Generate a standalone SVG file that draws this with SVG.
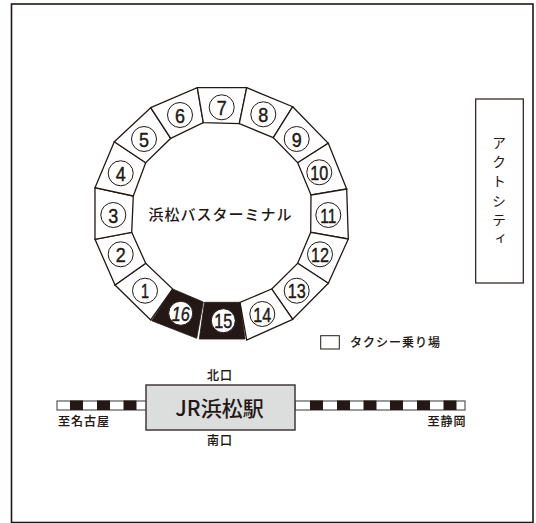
<svg xmlns="http://www.w3.org/2000/svg" width="536" height="523" viewBox="0 0 536 523">
<style>
text{font-family:"Noto Sans CJK JP","Noto Sans",sans-serif;fill:#231815;text-anchor:middle}
.bay{fill:#fff;stroke:#231815;stroke-width:1.3;stroke-linejoin:miter}
.dark{fill:#231815;stroke:#231815;stroke-width:.8}
.c{fill:#fff;stroke:#231815;stroke-width:1}
.n{font-family:"Liberation Sans",sans-serif;font-size:21px;stroke:#231815;stroke-width:.45}
.l{font-size:12px;font-weight:500;letter-spacing:1px;stroke:#231815;stroke-width:.15}
.blk{fill:#231815}
.rail{fill:#fff;stroke:#595757;stroke-width:1.2}
</style>
<rect id="frame" x="11.500" y="4" width="521.500" height="518.500" fill="#fff" stroke="#231815" stroke-width="1.600"/>
<g id="connectors">
<rect class="rail" x="57" y="401" width="90" height="9"/>
<rect class="rail" x="295" y="401" width="170" height="9"/>
<g class="blk">
<rect x="70" y="400.500" width="13" height="9.500"/><rect x="97" y="400.500" width="13" height="9.500"/><rect x="123.500" y="400.500" width="13" height="9.500"/>
<rect x="310" y="400.500" width="13" height="9.500"/><rect x="337" y="400.500" width="13" height="9.500"/><rect x="363.500" y="400.500" width="13" height="9.500"/><rect x="390" y="400.500" width="13" height="9.500"/><rect x="417" y="400.500" width="13" height="9.500"/><rect x="443.500" y="400.500" width="13" height="9.500"/>
</g>
</g>
<g id="bays">
<g id="bay1"><polygon class="bay" points="150.700,320 115,285 145.700,263.300 172.700,289"/><circle class="c" cx="145" cy="290.700" r="12.500"/><text class="n" x="145" y="298.200" textLength="8" lengthAdjust="spacingAndGlyphs">1</text></g>
<g id="bay2"><polygon class="bay" points="115,285 95,239.300 131.700,232.300 145.700,263.300"/><circle class="c" cx="120.700" cy="254.300" r="12.500"/><text class="n" x="120.700" y="261.800" textLength="10" lengthAdjust="spacingAndGlyphs">2</text></g>
<g id="bay3"><polygon class="bay" points="95,239.300 95,187.700 133.300,196 131.700,232.300"/><circle class="c" cx="113.300" cy="215" r="12.500"/><text class="n" x="113.300" y="222.500" textLength="10" lengthAdjust="spacingAndGlyphs">3</text></g>
<g id="bay4"><polygon class="bay" points="95,187.700 114.300,141.700 145.700,162.700 133.300,196"/><circle class="c" cx="120.700" cy="173.300" r="12.500"/><text class="n" x="120.700" y="180.800" textLength="10" lengthAdjust="spacingAndGlyphs">4</text></g>
<g id="bay5"><polygon class="bay" points="114.300,141.700 150.700,107.700 170.700,138.300 145.700,162.700"/><circle class="c" cx="144" cy="139" r="12.500"/><text class="n" x="144" y="146.500" textLength="10" lengthAdjust="spacingAndGlyphs">5</text></g>
<g id="bay6"><polygon class="bay" points="150.700,107.700 197.300,87.700 203.300,122.700 170.700,138.300"/><circle class="c" cx="180" cy="115" r="12.500"/><text class="n" x="180" y="122.500" textLength="10" lengthAdjust="spacingAndGlyphs">6</text></g>
<g id="bay7"><polygon class="bay" points="197.300,87.700 246.700,87.700 239.300,123.700 203.300,122.700"/><circle class="c" cx="221.700" cy="107.300" r="12.500"/><text class="n" x="221.700" y="114.800" textLength="10" lengthAdjust="spacingAndGlyphs">7</text></g>
<g id="bay8"><polygon class="bay" points="246.700,87.700 292.700,106.700 273.300,137.700 239.300,123.700"/><circle class="c" cx="263.300" cy="114.300" r="12.500"/><text class="n" x="263.300" y="121.800" textLength="10" lengthAdjust="spacingAndGlyphs">8</text></g>
<g id="bay9"><polygon class="bay" points="292.700,106.700 328.300,143.300 297.700,162.700 273.300,137.700"/><circle class="c" cx="296.700" cy="139" r="12.500"/><text class="n" x="296.700" y="146.500" textLength="10" lengthAdjust="spacingAndGlyphs">9</text></g>
<g id="bay10"><polygon class="bay" points="328.300,143.300 346.700,189 311,195 297.700,162.700"/><circle class="c" cx="319.300" cy="172.300" r="12.500"/><text class="n" x="319.300" y="179.800" textLength="18" lengthAdjust="spacingAndGlyphs">10</text></g>
<g id="bay11"><polygon class="bay" points="346.700,189 348.300,239 310.700,232.300 311,195"/><circle class="c" cx="328.300" cy="215" r="12.500"/><text class="n" x="328.300" y="222.500" textLength="16" lengthAdjust="spacingAndGlyphs">11</text></g>
<g id="bay12"><polygon class="bay" points="348.300,239 328.300,283.300 297.700,263.300 310.700,232.300"/><circle class="c" cx="320" cy="254.300" r="12.500"/><text class="n" x="320" y="261.800" textLength="18" lengthAdjust="spacingAndGlyphs">12</text></g>
<g id="bay13"><polygon class="bay" points="328.300,283.300 292.700,319.300 271.700,289 297.700,263.300"/><circle class="c" cx="296.700" cy="290.700" r="12.500"/><text class="n" x="296.700" y="298.200" textLength="18" lengthAdjust="spacingAndGlyphs">13</text></g>
<g id="bay14"><polygon class="bay" points="292.700,319.300 246.700,340 240,302.300 271.700,289"/><circle class="c" cx="262.300" cy="314" r="12.500"/><text class="n" x="262.300" y="321.500" textLength="18" lengthAdjust="spacingAndGlyphs">14</text></g>
<g id="bay15"><polygon class="dark" points="245,339 199.300,339 204.500,302.300 240,302.300"/><circle class="c" cx="223.300" cy="320.700" r="12"/><text class="n" x="223.300" y="328.200" textLength="18" lengthAdjust="spacingAndGlyphs">15</text></g>
<g id="bay16"><polygon class="dark" points="196.700,338.300 151.700,320.700 172.700,289 203.300,302"/><circle class="c" cx="180.700" cy="313.300" r="12"/><text class="n" x="180.700" y="320.800" font-style="italic" textLength="18" lengthAdjust="spacingAndGlyphs">16</text></g>
</g>
<g id="terminal-label"><text x="220.500" y="220" font-size="15" font-weight="500" letter-spacing="1">浜松バスターミナル</text></g>
<g id="activity"><rect x="475.700" y="99" width="47.600" height="184" fill="#fff" stroke="#231815" stroke-width="1.200"/>
<text x="499" y="135.500" font-size="14" letter-spacing="5.300" style="writing-mode:vertical-rl;text-anchor:start">アクトシティ</text></g>
<g id="legend"><rect x="320.700" y="335.700" width="18.600" height="13.300" fill="#fff" stroke="#231815" stroke-width="1"/><text x="395.500" y="346.700" class="l">タクシー乗り場</text></g>
<g id="station"><rect x="146" y="385" width="149" height="45" fill="#dcdddd" stroke="#3e3a39" stroke-width="1.500"/><text x="219.500" y="416" font-size="21" font-weight="500">JR浜松駅</text></g>
<text x="220" y="380" class="l">北口</text>
<text x="220" y="445" class="l">南口</text>
<text x="84" y="426" class="l">至名古屋</text>
<text x="447" y="426" class="l">至静岡</text>
</svg>
